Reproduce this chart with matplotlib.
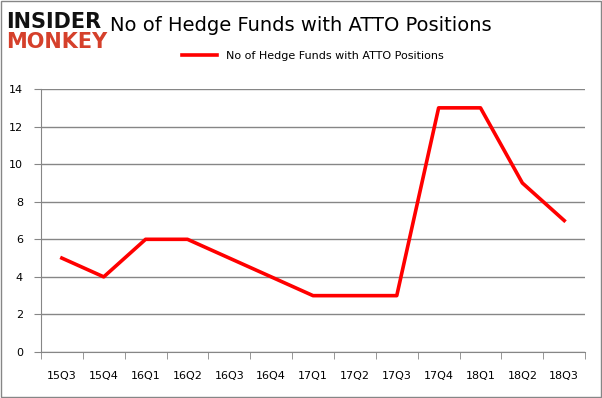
import matplotlib
matplotlib.use('Agg')
import matplotlib.pyplot as plt
from matplotlib.patches import Rectangle

quarters = ['15Q3', '15Q4', '16Q1', '16Q2', '16Q3', '16Q4', '17Q1',
            '17Q2', '17Q3', '17Q4', '18Q1', '18Q2', '18Q3']
funds = [5, 4, 6, 6, 5, 4, 3, 3, 3, 13, 13, 9, 7]
series_name = 'No of Hedge Funds with ATTO Positions'

fig = plt.figure(figsize=(6.02, 3.98), dpi=100)
ax = fig.add_axes([0.068, 0.1156, 0.904, 0.6606])

x = list(range(len(quarters)))
ax.plot(x, funds, color='#ff0000', linewidth=2.6, label=series_name)

ax.set_xlim(-0.5, len(quarters) - 0.5)
ax.set_ylim(0, 14)
ax.set_yticks(range(0, 15, 2))
ax.set_xticks(x)
ax.set_xticklabels(quarters)
ax.set_xticks([i - 0.5 for i in range(len(quarters) + 1)], minor=True)

ax.grid(axis='y', color='#868686', linewidth=1)
ax.set_axisbelow(True)
for s in ['top', 'right']:
    ax.spines[s].set_visible(False)
ax.spines['left'].set_color('#868686')
ax.spines['bottom'].set_color('#868686')
ax.tick_params(axis='x', which='major', length=0, pad=14, labelsize=8)
ax.tick_params(axis='x', which='minor', length=5, color='#868686')
ax.tick_params(axis='y', length=5, color='#868686', labelsize=8, pad=8)

fig.text(0.50, 0.935, series_name, ha='center', va='center', fontsize=14)
ax.legend(loc='lower center', bbox_to_anchor=(0.5, 1.07), frameon=False,
          fontsize=8, handlelength=3.2)

# logo
fig.text(0.010, 0.945, 'INSIDER', fontsize=15, fontweight='heavy',
         color='#111111', va='center', ha='left')
fig.text(0.010, 0.895, 'MONKEY', fontsize=15, fontweight='heavy',
         color='#d5402b', va='center', ha='left')

fig.patches.append(Rectangle((0.001, 0.002), 0.997, 0.995, transform=fig.transFigure,
                             fill=False, edgecolor='#868686', linewidth=1))

plt.savefig('out.png', dpi=100)
